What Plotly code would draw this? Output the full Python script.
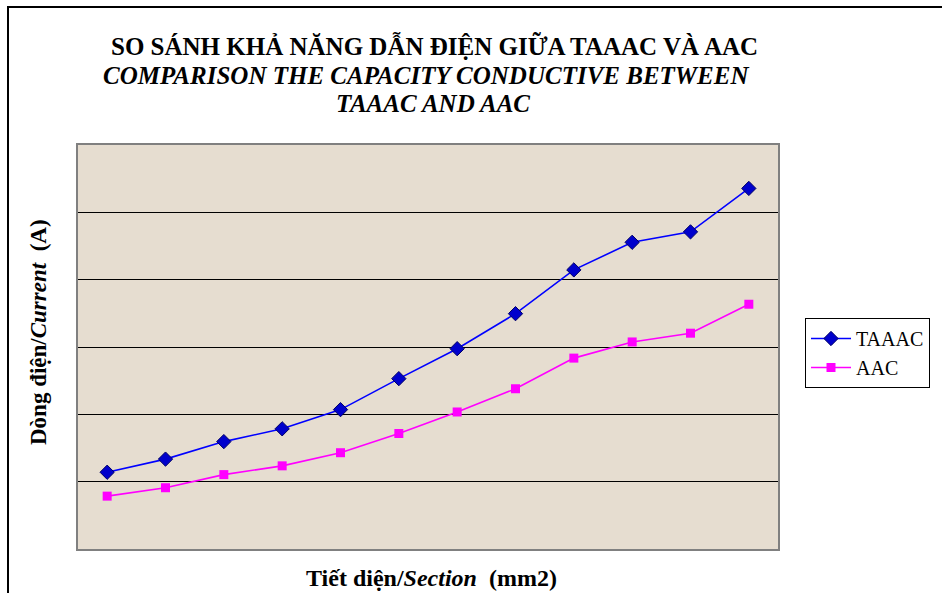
import plotly.graph_objects as go

sections = ["16", "25", "35", "50", "70", "95", "120", "150", "185", "240", "300", "400"]
taaac = [228, 267, 319, 357, 414, 506, 595, 699, 829, 911, 942, 1071]
aac = [157, 182, 221, 247, 286, 343, 407, 476, 567, 615, 641, 727]

W, H = 942, 593
L, R, T, B = 78, 778, 145, 549

def px(x):
    return (x - L) / (R - L)

def py(y):
    return (B - y) / (B - T)

FONT = "Liberation Serif, Times New Roman, serif"

fig = go.Figure()
fig.add_trace(go.Scatter(
    x=sections, y=taaac, name="TAAAC", mode="lines+markers",
    line=dict(color="#0000FF", width=1.6),
    marker=dict(symbol="diamond", size=11, color="#0000CC",
                line=dict(color="#000066", width=1)),
))
fig.add_trace(go.Scatter(
    x=sections, y=aac, name="AAC", mode="lines+markers",
    line=dict(color="#FF00FF", width=1.6),
    marker=dict(symbol="square", size=9, color="#FF00FF",
                line=dict(color="#FF00FF", width=0)),
))

fig.update_layout(
    width=W, height=H,
    margin=dict(l=L, r=W - R, t=T, b=H - B, pad=0),
    paper_bgcolor="white",
    plot_bgcolor="#E6DDD0",
    font=dict(family=FONT, color="black"),
    showlegend=True,
    legend=dict(
        x=px(805), y=py(318), xanchor="left", yanchor="top",
        bordercolor="black", borderwidth=1, bgcolor="white",
        font=dict(family=FONT, size=20, color="black"),
        tracegroupgap=0, itemwidth=40,
    ),
    xaxis=dict(
        type="category", range=[-0.5, 11.5], showticklabels=False,
        ticks="", showgrid=False, zeroline=False,
        showline=True, linecolor="#808080", linewidth=2, mirror=True,
    ),
    yaxis=dict(
        range=[0, 1200], dtick=200, showticklabels=False, ticks="",
        showgrid=True, gridcolor="#000000", gridwidth=1, zeroline=False,
        showline=True, linecolor="#808080", linewidth=2, mirror=True,
    ),
)

ann = [
    dict(text="<b>SO SÁNH KHẢ NĂNG DẪN ĐIỆN GIỮA TAAAC VÀ AAC</b>", x=px(434), y=py(46), size=25),
    dict(text="<b><i>COMPARISON THE CAPACITY CONDUCTIVE BETWEEN</i></b>", x=px(426), y=py(75), size=25),
    dict(text="<b><i>TAAAC AND AAC</i></b>", x=px(433), y=py(104), size=25),
    dict(text="<b>Tiết diện/<i>Section</i>  (mm2)</b>", x=px(431), y=py(578), size=24),
]
for a in ann:
    fig.add_annotation(text=a["text"], x=a["x"], y=a["y"], xref="paper", yref="paper",
                       xanchor="center", yanchor="middle", showarrow=False,
                       font=dict(family=FONT, size=a["size"], color="black"))

fig.add_annotation(text="<b>Dòng điện/<i>Current</i>  (A)</b>", x=px(38), y=py(332),
                   xref="paper", yref="paper", xanchor="center", yanchor="middle",
                   showarrow=False, textangle=-90,
                   font=dict(family=FONT, size=23, color="black"))

fig.add_shape(type="rect", xref="paper", yref="paper",
              x0=px(8), x1=px(960), y0=py(620), y1=py(7),
              line=dict(color="black", width=2), fillcolor="rgba(0,0,0,0)", layer="below")

fig.write_html("out.html", config={"displayModeBar": False},
               post_script="document.body.style.margin='0';")
